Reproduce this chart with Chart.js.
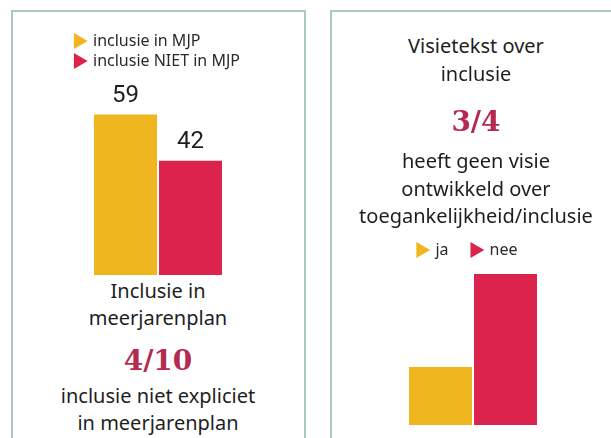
<!DOCTYPE html>
<html>
<head>
<meta charset="utf-8">
<script src="https://cdn.jsdelivr.net/npm/chart.js@4/dist/chart.umd.min.js"></script>
<style>
  html, body { margin: 0; padding: 0; background: #ffffff; width: 611px; height: 438px; overflow: hidden; }
  .panel { position: absolute; border: 2px solid #a9c8c6; box-sizing: border-box; background: #fff; }
  .t { position: absolute; width: 320px; text-align: center; font-family: "Noto Sans", sans-serif; font-size: 20px; color: #1e1e1e; line-height: 28px; height: 28px; white-space: nowrap; z-index: 2; }
  .frac { font-family: "DejaVu Serif", serif; font-weight: bold; font-size: 28px; color: #b62a51; line-height: 36px; height: 36px; }
  canvas { position: absolute; z-index: 1; }
</style>
</head>
<body>
<div class="panel" style="left:11px; top:10px; width:295px; height:460px;"></div>
<div class="panel" style="left:330px; top:10px; width:300px; height:460px;"></div>

<canvas id="c1" width="180" height="246" style="left:68px; top:29px;"></canvas>
<canvas id="c2" width="194" height="203" style="left:369px; top:222px;"></canvas>

<div id="texts"></div>

<script>
// ---- data ----
const mjpLabels = ['inclusie in MJP', 'inclusie NIET in MJP'];
const mjpValues = [59, 42];
const visieLabels = ['ja', 'nee'];
const visieValues = [5, 13];

const leftTitleLines = ['Inclusie in', 'meerjarenplan'];
const leftFraction = '4/10';
const leftNoteLines = ['inclusie niet expliciet', 'in meerjarenplan'];

const rightTitleLines = ['Visietekst over', 'inclusie'];
const rightFraction = '3/4';
const rightNoteLines = ['heeft geen visie', 'ontwikkeld over', 'toegankelijkheid/inclusie'];

// ---- styles ----
const COLORS = ['#f0b61f', '#dc234b'];

// ---- text blocks ----
const textHost = document.getElementById('texts');
function addText(str, cx, cy, cls) {
  const d = document.createElement('div');
  d.className = 't' + (cls ? ' ' + cls : '');
  d.textContent = str;
  const h = cls === 'frac' ? 36 : 28;
  d.style.left = (cx - 160) + 'px';
  d.style.top = (cy - h / 2) + 'px';
  textHost.appendChild(d);
}
addText(leftTitleLines[0], 158, 291);
addText(leftTitleLines[1], 158, 318);
addText(leftFraction, 158, 361, 'frac');
addText(leftNoteLines[0], 158, 396);
addText(leftNoteLines[1], 158, 423);

addText(rightTitleLines[0], 476, 46);
addText(rightTitleLines[1], 476, 74);
addText(rightFraction, 476, 122, 'frac');
addText(rightNoteLines[0], 476, 161);
addText(rightNoteLines[1], 476, 189);
addText(rightNoteLines[2], 476, 216);

// ---- value labels plugin ----
const valueLabels = {
  id: 'valueLabels',
  afterDatasetsDraw(chart, args, opts) {
    if (!opts || !opts.show) return;
    const ctx = chart.ctx;
    ctx.save();
    ctx.font = '24px Roboto, sans-serif';
    ctx.fillStyle = '#1e1e1e';
    ctx.textAlign = 'center';
    ctx.textBaseline = 'middle';
    chart.data.datasets.forEach((ds, i) => {
      const meta = chart.getDatasetMeta(i);
      meta.data.forEach((bar, j) => {
        ctx.fillText(String(ds.data[j]), bar.x, bar.y - 19);
      });
    });
    ctx.restore();
  }
};

function triangleLegend(chart) {
  return chart.data.datasets.map((ds, i) => ({
    text: ds.label,
    fillStyle: ds.backgroundColor,
    strokeStyle: ds.backgroundColor,
    lineWidth: 0,
    pointStyle: 'triangle',
    rotation: 90,
    fontColor: '#2a2a2a',
    hidden: false,
    datasetIndex: i
  }));
}

function makeChart(id, labels, values, yMax, legendAlign, legendPad, showValues, leftGap) {
  return new Chart(document.getElementById(id), {
    type: 'bar',
    data: {
      labels: [''],
      datasets: labels.map((l, i) => ({
        label: l,
        data: [values[i]],
        backgroundColor: COLORS[i],
        borderWidth: 0,
        categoryPercentage: 130 / 180,
        barPercentage: 63 / 65
      }))
    },
    options: {
      responsive: false,
      devicePixelRatio: 1,
      animation: false,
      layout: { padding: 0 },
      scales: {
        x: { display: false },
        y: {
          display: leftGap > 0,
          min: 0,
          max: yMax,
          grid: { display: false },
          border: { display: false },
          ticks: { display: false },
          afterFit(scale) { scale.width = leftGap; }
        }
      },
      plugins: {
        tooltip: { enabled: false },
        valueLabels: { show: showValues },
        legend: {
          display: true,
          position: 'top',
          align: legendAlign,
          labels: {
            usePointStyle: true,
            boxWidth: 13,
            boxHeight: 13,
            padding: legendPad,
            color: '#2a2a2a',
            font: { family: '"Noto Sans", sans-serif', size: 16 },
            generateLabels: triangleLegend
          }
        }
      }
    },
    plugins: [valueLabels]
  });
}

makeChart('c1', mjpLabels, mjpValues, 72.06, 'start', 4, true, 0);
makeChart('c2', visieLabels, visieValues, 13.52, 'center', 20, false, 14);
</script>
</body>
</html>
